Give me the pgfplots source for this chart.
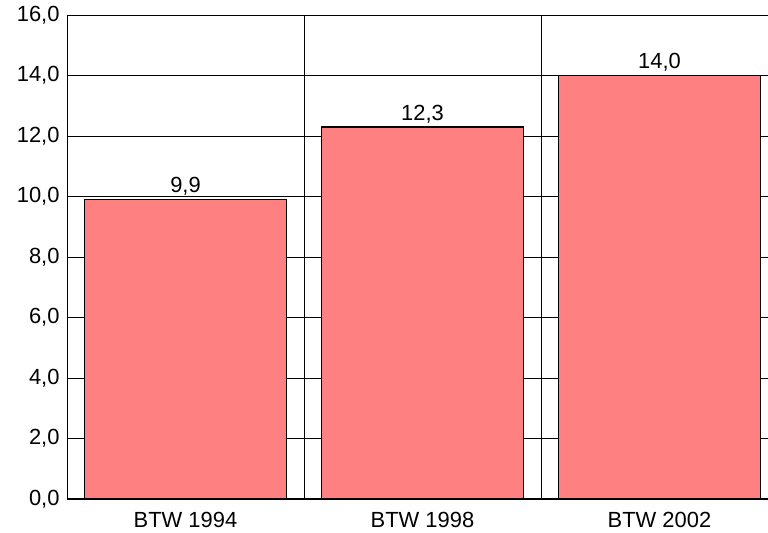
\documentclass[border=0pt]{standalone}
\usepackage{pgfplots}
\pgfplotsset{compat=1.18}
\usepackage{fontspec}
\setmainfont{Liberation Sans}

\definecolor{barred}{HTML}{FF8080}

\begin{document}
\begin{tikzpicture}
\begin{axis}[
    scale only axis,
    width=701bp, height=484bp,
    at={(0,0)}, anchor=south west,
    xmin=-0.5, xmax=2.458,
    ymin=0, ymax=16,
    ytick={0,2,...,16},
    xtick={0,1,2},
    xticklabels={BTW 1994,BTW 1998,BTW 2002},
    minor xtick={0.5,1.5},
    minor x grid style={black, line width=0.8bp},
    xminorgrids=true,
    ymajorgrids=true,
    major grid style={black, line width=0.8bp},
    axis lines*=left,
    x axis line style={black, line width=2bp, -},
    y axis line style={black, line width=0.9bp, -},
    tick style={draw=none},
    font=\fontsize{22}{25}\selectfont,
    tick label style={font=\fontsize{22}{25}\selectfont},
    yticklabel={\pgfmathprintnumber[assume math mode=true,use comma,fixed,fixed zerofill,precision=1]{\tick}},
    xticklabel style={yshift=-10bp},
    yticklabel style={xshift=-4bp},
    clip=false,
]
\addplot[ybar, bar width=0.852, fill=barred, draw=black, line width=1.4bp,
    nodes near coords={\pgfmathprintnumber[assume math mode=true,use comma,fixed,fixed zerofill,precision=1]{\pgfplotspointmeta}},
    nodes near coords style={font=\fontsize{22}{25}\selectfont, text=black, yshift=0bp}]
  coordinates {(0,9.9) (1,12.3) (2,14.0)};
\end{axis}
\pgfresetboundingbox
\path[use as bounding box] (-67bp,-34bp) rectangle (701bp,499bp);
\end{tikzpicture}
\end{document}
